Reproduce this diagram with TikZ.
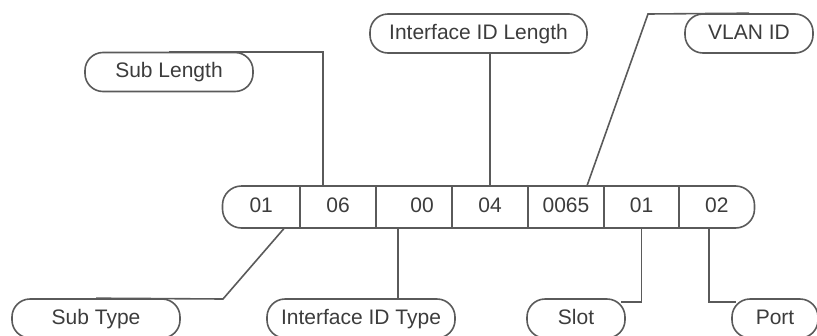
\documentclass[tikz,border=0pt]{standalone}
\usepackage{fontspec}
\setmainfont{Liberation Sans}
\definecolor{linegray}{HTML}{5A5A5A}
\definecolor{textgray}{HTML}{3C3C3C}

\begin{document}
\begin{tikzpicture}[x=1pt,y=-1pt,
  tag/.style={draw=linegray, line width=1.6pt, rounded corners=18pt, minimum height=39pt, inner sep=0pt, text height=15pt, text depth=4pt, text=textgray, font=\fontsize{21}{24}\selectfont},
  cell/.style={minimum width=76pt, minimum height=42pt, inner sep=0pt, text height=15pt, text depth=4pt, text=textgray, font=\fontsize{21}{24}\selectfont},
  link/.style={draw=linegray, line width=1.6pt}]
\useasboundingbox (0,0) rectangle (817,335);
% the field bar
\node[draw=linegray, line width=1.6pt, rounded corners=19pt, minimum width=532pt, minimum height=42pt, inner sep=0pt] (bar) at (488.5,207) {};
\node[cell, minimum width=77.5pt] (c1) at (261.25,207) {01};
\node[cell] (c2) at (338,207) {06};
\node[cell] (c3) at (414,207) {\hspace*{16pt}00};
\node[cell] (c4) at (490,207) {04};
\node[cell] (c5) at (566,207) {0065};
\node[cell, minimum width=75pt] (c6) at (641.5,207) {01};
\node[cell, minimum width=75.5pt] (c7) at (716.75,207) {02};
\draw[link] (c1.north east) -- (c1.south east);
\draw[link] (c2.north east) -- (c2.south east);
\draw[link] (c3.north east) -- (c3.south east);
\draw[link] (c4.north east) -- (c4.south east);
\draw[link] (c5.north east) -- (c5.south east);
\draw[link] (c6.north east) -- (c6.south east);
% labels
\node[tag, minimum width=168pt] (sublen) at (169,72) {Sub Length};
\node[tag, minimum width=217pt] (ifidlen) at (478.5,33.5) {Interface ID Length};
\node[tag, minimum width=128pt] (vlan) at (749,33.5) {VLAN ID};
\node[tag, minimum width=168pt] (subtype) at (96,318.5) {Sub Type};
\node[tag, minimum width=188pt] (ifidtype) at (361,318.5) {Interface ID Type};
\node[tag, minimum width=98pt] (slot) at (576,318.5) {Slot};
\node[tag, minimum width=86pt] (port) at (775,318.5) {Port};
\coordinate (vbend) at (648,14);
\coordinate (stbend) at (223,299);
% connectors
\draw[link] ([xshift=-15pt]c2.north) |- (sublen.north);
\draw[link] (ifidlen.south -| c4.north) -- (c4.north);
\draw[link] (vlan.north) -- (vbend) -- ([xshift=21pt]c5.north);
\draw[link] (subtype.north) -- (stbend) -- ([xshift=23pt]c1.south);
\draw[link] ([xshift=-16pt]c3.south) -- ([xshift=-16pt]c3.south |- ifidtype.north);
\draw[link] (c6.south) |- ([xshift=-5pt,yshift=-4pt]slot.north east);
\draw[link] ([xshift=-8pt]c7.south) |- ([xshift=5pt,yshift=-4pt]port.north west);
\end{tikzpicture}
\end{document}
